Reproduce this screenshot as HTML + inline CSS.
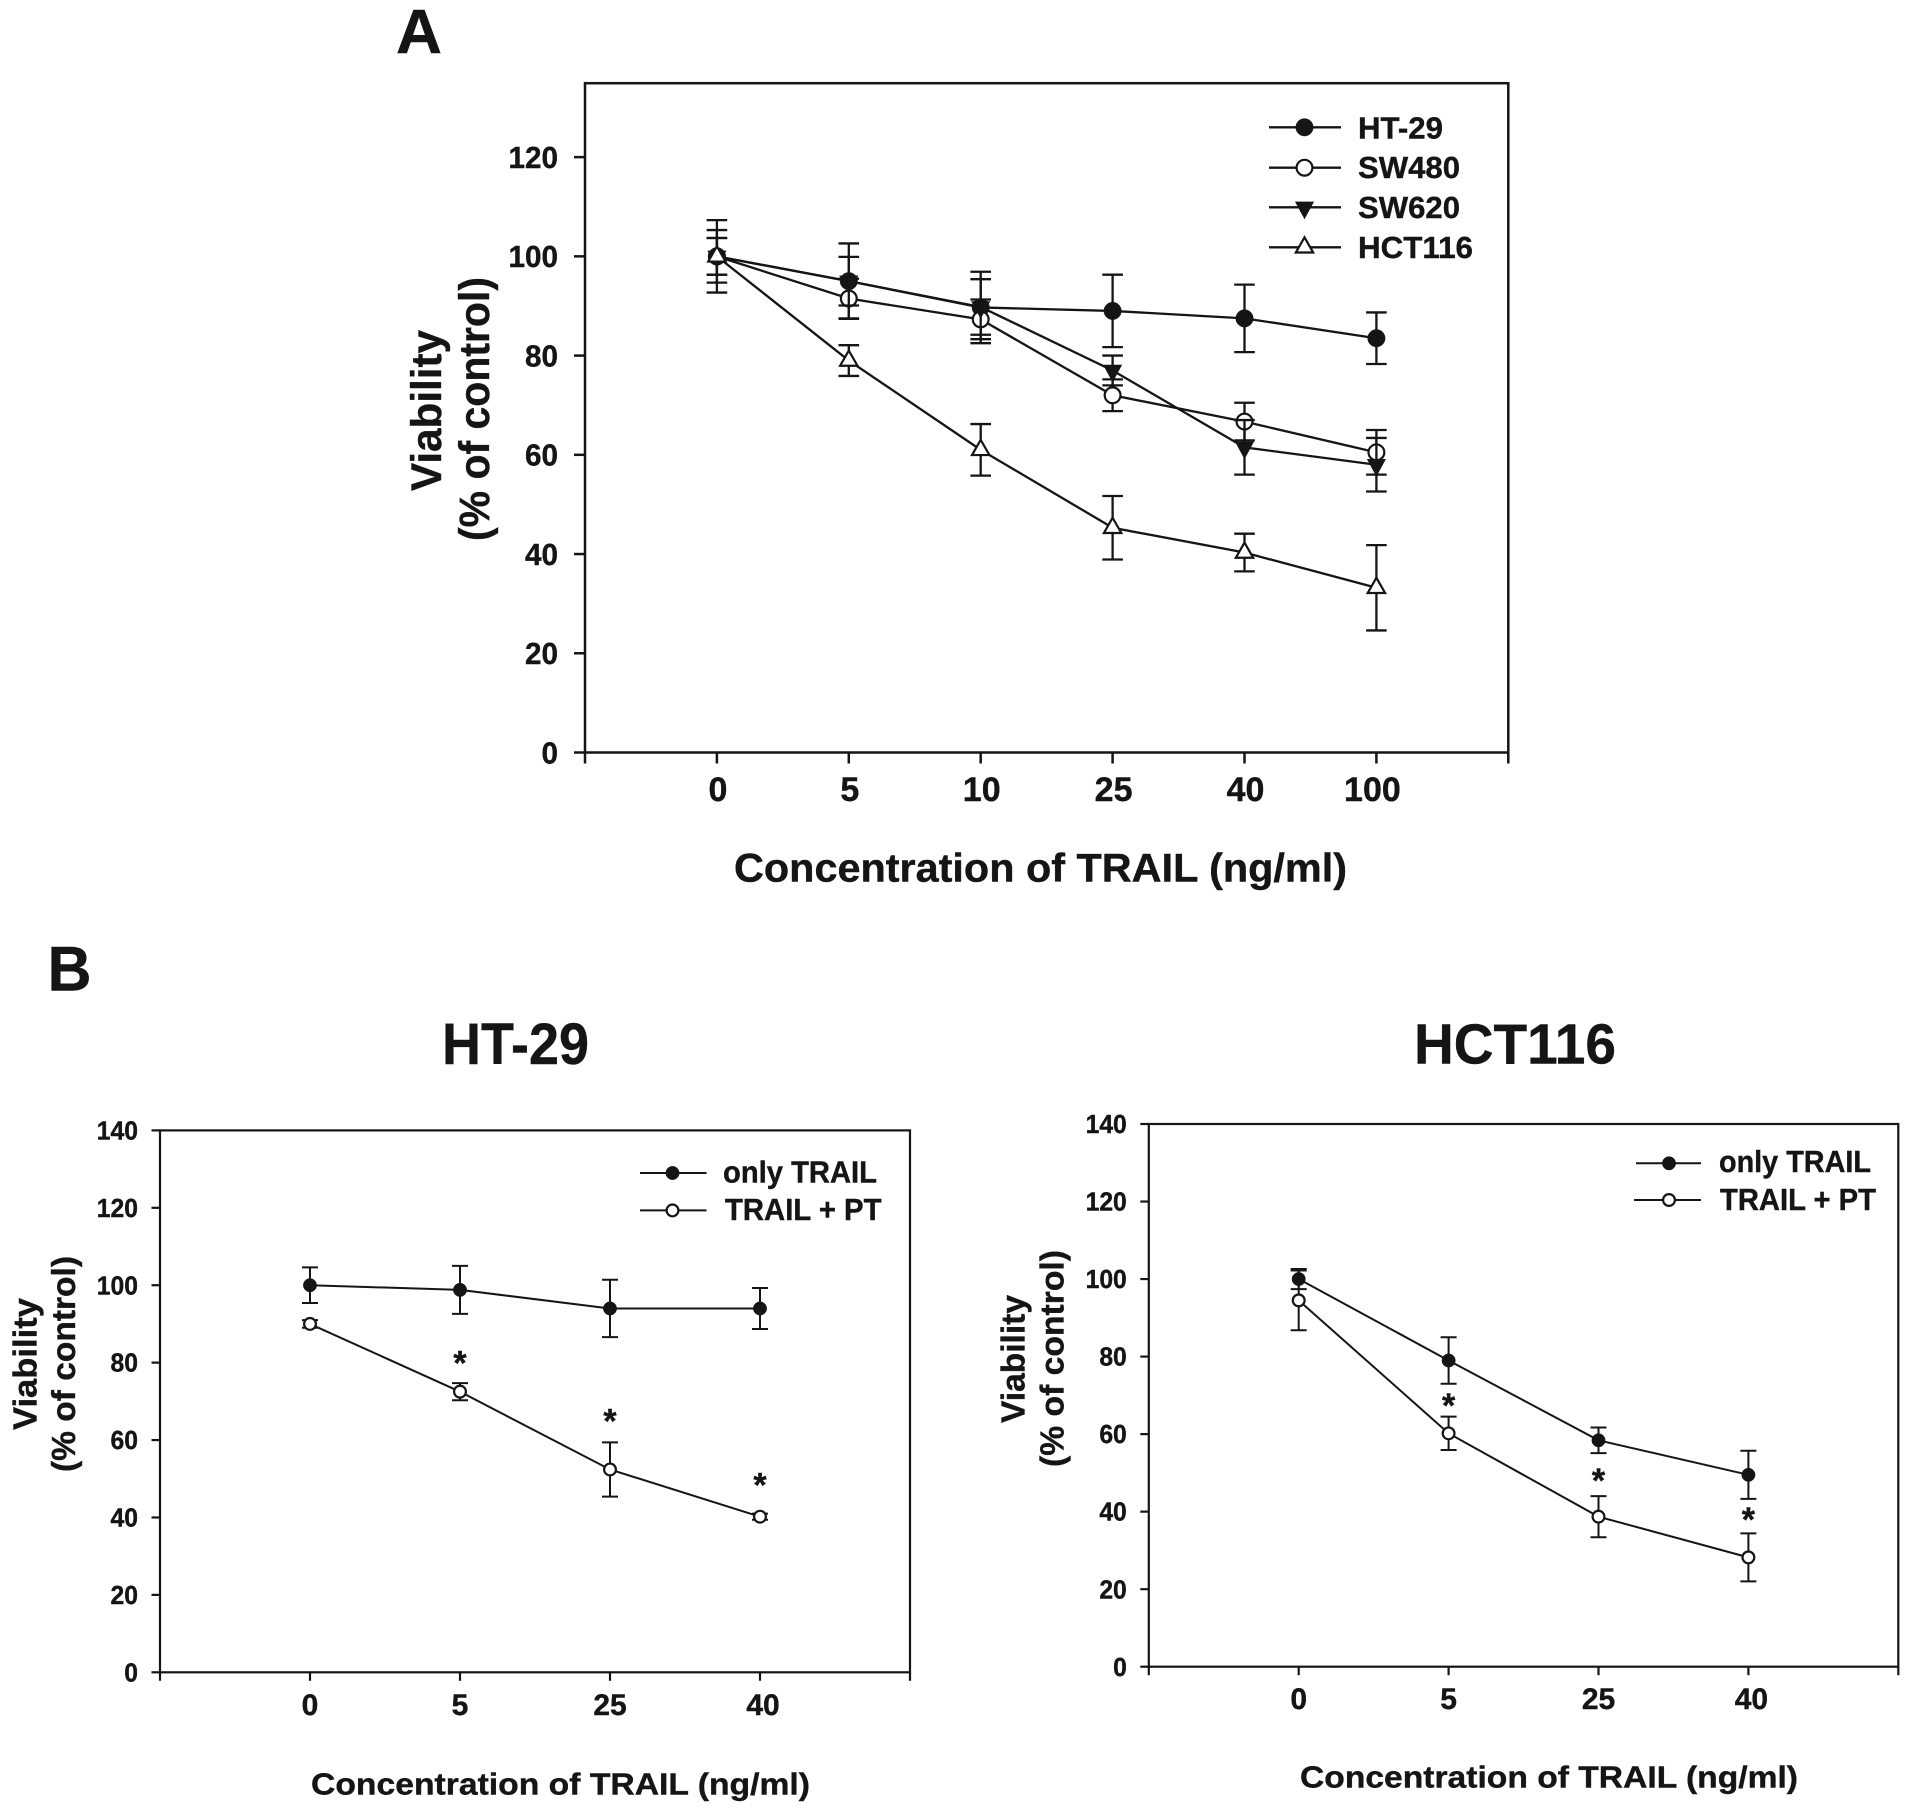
<!DOCTYPE html>
<html lang="en">
<head>
<meta charset="utf-8">
<title>TRAIL viability charts</title>
<style>
html,body{margin:0;padding:0;background:#fff;}
svg{display:block;}
text{font-family:"Liberation Sans",Arial,sans-serif;font-weight:bold;fill:#151515;stroke:#151515;stroke-width:0.4;}
</style>
</head>
<body>
<svg id="fig" xmlns="http://www.w3.org/2000/svg" width="1912" height="1818" viewBox="0 0 1912 1818">
  <rect x="0" y="0" width="1912" height="1818" fill="#fff"/>
  <text x="396" y="53" font-size="62" textLength="46" lengthAdjust="spacingAndGlyphs">A</text>
  <text x="47.5" y="990.5" font-size="63" textLength="44" lengthAdjust="spacingAndGlyphs">B</text>
  <text x="442" y="1064" font-size="58" textLength="147" lengthAdjust="spacingAndGlyphs">HT-29</text>
  <text x="1414" y="1063.5" font-size="57" textLength="202" lengthAdjust="spacingAndGlyphs">HCT116</text>

  <text x="734" y="881.5" font-size="40" textLength="613" lengthAdjust="spacingAndGlyphs">Concentration of TRAIL (ng/ml)</text>
  <text transform="translate(441,491) rotate(-90)" font-size="43" textLength="161" lengthAdjust="spacingAndGlyphs">Viability</text>
  <text transform="translate(489,541) rotate(-90)" font-size="43" textLength="264" lengthAdjust="spacingAndGlyphs">(% of control)</text>

  <text x="311" y="1794.5" font-size="31" textLength="499" lengthAdjust="spacingAndGlyphs">Concentration of TRAIL (ng/ml)</text>
  <text transform="translate(36.5,1430) rotate(-90)" font-size="33" textLength="132" lengthAdjust="spacingAndGlyphs">Viability</text>
  <text transform="translate(75,1472) rotate(-90)" font-size="33" textLength="216" lengthAdjust="spacingAndGlyphs">(% of control)</text>

  <text x="1300" y="1787.5" font-size="31" textLength="498" lengthAdjust="spacingAndGlyphs">Concentration of TRAIL (ng/ml)</text>
  <text transform="translate(1024.5,1423) rotate(-90)" font-size="33" textLength="128" lengthAdjust="spacingAndGlyphs">Viability</text>
  <text transform="translate(1063.5,1467) rotate(-90)" font-size="33" textLength="217" lengthAdjust="spacingAndGlyphs">(% of control)</text>
</svg>
<script>
// ---------- Panel A data ----------
const aCategories = ['0', '5', '10', '25', '40', '100'];
const aYTicks = [0, 20, 40, 60, 80, 100, 120];
const aHt29 = [100, 95, 89.7, 89, 87.5, 83.5];
const aHt29Err = [7.3, 7.6, 7.2, 7.3, 6.8, 5.2];
const aSw480 = [100, 91.5, 87.3, 72, 66.7, 60.5];
const aSw480Err = [3.7, 4, 4, 3.2, 3.8, 4.5];
const aSw620 = [100, 95, 89.8, 77, 61.5, 58];
const aSw620Err = [5.3, 4.9, 5.6, 3, 5.5, 5.4];
const aHct116 = [100, 79, 61, 45.3, 40.3, 33.2];
const aHct116Err = [3.7, 3.1, 5.2, 6.4, 3.8, 8.6];

// ---------- Panel B, HT-29 data ----------
const b1Categories = ['0', '5', '25', '40'];
const b1YTicks = [0, 20, 40, 60, 80, 100, 120, 140];
const b1Only = [100, 98.8, 94, 94];
const b1OnlyErr = [4.6, 6.2, 7.4, 5.3];
const b1Pt = [90, 72.5, 52.4, 40.2];
const b1PtErr = [1, 2.2, 7, 0.8];
const b1Stars = [null, 81, 66, 49.4];

// ---------- Panel B, HCT116 data ----------
const b2Categories = ['0', '5', '25', '40'];
const b2YTicks = [0, 20, 40, 60, 80, 100, 120, 140];
const b2Only = [100, 79, 58.4, 49.5];
const b2OnlyErr = [2.6, 6, 3.3, 6.2];
const b2Pt = [94.5, 60.2, 38.7, 28.2];
const b2PtErr = [7.7, 4.3, 5.3, 6.2];
const b2Stars = [null, 68.4, 49.1, 39];

const NS = 'http://www.w3.org/2000/svg';
const svg = document.getElementById('fig');
const INK = '#151515';

function make(tag, attrs, parent) {
  const node = document.createElementNS(NS, tag);
  for (const k in attrs) node.setAttribute(k, attrs[k]);
  parent.appendChild(node);
  return node;
}

function drawMarker(kind, cx, cy, r, parent) {
  let m;
  if (kind === 'filled-circle' || kind === 'open-circle') {
    m = make('circle', {cx: cx, cy: cy, r: kind === 'filled-circle' ? r : r - 0.8, fill: kind === 'filled-circle' ? INK : '#fff', stroke: INK, 'stroke-width': kind === 'filled-circle' ? 0.5 : 2.2}, parent);
  } else if (kind === 'filled-triangle-down') {
    m = make('polygon', {points: (cx - r) + ',' + (cy - r * 0.6) + ' ' + (cx + r) + ',' + (cy - r * 0.6) + ' ' + cx + ',' + (cy + r * 1.25), fill: INK, stroke: INK, 'stroke-width': 1}, parent);
  } else {
    m = make('polygon', {points: (cx - r) + ',' + (cy + r * 0.6) + ' ' + (cx + r) + ',' + (cy + r * 0.6) + ' ' + cx + ',' + (cy - r * 1.15), fill: '#fff', stroke: INK, 'stroke-width': 2.2}, parent);
  }
  return m;
}

function drawChart(cfg) {
  const g = make('g', {}, svg);
  
  

  const yScale = function (v) { return cfg.bottom - (v / cfg.yMax) * (cfg.bottom - cfg.top); };
  const step = (cfg.right - cfg.left) / (cfg.categories.length + 1);
  const xScale = function (i) { return cfg.left + step * (i + 1); };

  const frame = make('rect', {x: cfg.left, y: cfg.top, width: cfg.right - cfg.left, height: cfg.bottom - cfg.top, fill: 'none', stroke: INK, 'stroke-width': cfg.axisWidth}, g);
  
  

  cfg.yTicks.forEach(function (t) {
    const tick = make('line', {x1: cfg.left - cfg.tickLen, x2: cfg.left, y1: yScale(t), y2: yScale(t), stroke: INK, 'stroke-width': cfg.axisWidth}, g);
    
    
    const str = String(t);
    const label = make('text', {x: cfg.yLabelRight, y: yScale(t) + cfg.tickFont * 0.35, 'text-anchor': 'end', 'font-size': cfg.tickFont, textLength: str.length * 0.556 * cfg.tickWidthFont, lengthAdjust: 'spacingAndGlyphs'}, g);
    label.textContent = str;
    
    
  });

  const edgeLeft = make('line', {x1: cfg.left, x2: cfg.left, y1: cfg.bottom, y2: cfg.bottom + cfg.tickLen, stroke: INK, 'stroke-width': cfg.axisWidth}, g);
  
  
  const edgeRight = make('line', {x1: cfg.right, x2: cfg.right, y1: cfg.bottom, y2: cfg.bottom + cfg.tickLen, stroke: INK, 'stroke-width': cfg.axisWidth}, g);
  
  

  cfg.categories.forEach(function (c, i) {
    const tick = make('line', {x1: xScale(i), x2: xScale(i), y1: cfg.bottom, y2: cfg.bottom + cfg.tickLen, stroke: INK, 'stroke-width': cfg.axisWidth}, g);
    
    
    const label = make('text', {x: xScale(i) + (i === cfg.categories.length - 1 ? cfg.lastLabelShift : cfg.labelShift), y: cfg.xLabelBaseline, 'text-anchor': 'middle', 'font-size': cfg.xTickFont}, g);
    label.textContent = c;
    
    
  });

  cfg.series.forEach(function (s) {
    const sg = make('g', {}, g);
    
    

    const pts = s.values.map(function (v, i) { return xScale(i) + ',' + yScale(v); }).join(' ');
    const line = make('polyline', {points: pts, fill: 'none', stroke: INK, 'stroke-width': cfg.lineWidth}, sg);
    
    

    s.values.forEach(function (v, i) {
      const x = xScale(i), hi = yScale(v + s.errors[i]), lo = yScale(v - s.errors[i]);
      const d = 'M' + x + ' ' + hi + 'V' + lo + 'M' + (x - cfg.capHalf) + ' ' + hi + 'H' + (x + cfg.capHalf) + 'M' + (x - cfg.capHalf) + ' ' + lo + 'H' + (x + cfg.capHalf);
      const bar = make('path', {d: d, fill: 'none', stroke: INK, 'stroke-width': cfg.lineWidth}, sg);
      
      
    });
    s.values.forEach(function (v, i) {
      const mark = drawMarker(s.marker, xScale(i), yScale(v), cfg.markerR, sg);
      
      
    });
  });

  cfg.stars.forEach(function (v, i) {
    if (v === null) return;
    const star = make('text', {x: xScale(i), y: yScale(v) + cfg.starFont * 0.46, 'text-anchor': 'middle', 'font-size': cfg.starFont}, g);
    star.textContent = '*';
    
    
  });

  cfg.legend.forEach(function (e) {
    const lg = make('g', {}, g);
    
    
    const sample = make('line', {x1: e.x1, x2: e.x2, y1: e.y, y2: e.y, stroke: INK, 'stroke-width': cfg.lineWidth}, lg);
    
    
    const mark = drawMarker(e.marker, e.mx, e.y, cfg.markerR, lg);
    
    
    const label = make('text', {x: e.tx, y: e.ty, 'font-size': cfg.legendFont, textLength: e.tw, lengthAdjust: 'spacingAndGlyphs'}, lg);
    label.textContent = e.label;
    
    
  });
}

drawChart({
  name: 'panel-a', left: 585, right: 1508.3, top: 83.2, bottom: 752.5, yMax: 134.9,
  categories: aCategories, yTicks: aYTicks, axisWidth: 2.5, lineWidth: 2.3, tickLen: 11,
  tickFont: 31, tickWidthFont: 29.7, xTickFont: 34, yLabelRight: 558, xLabelBaseline: 801, lastLabelShift: -4, labelShift: 1,
  capHalf: 10.3, markerR: 8.7, starFont: 34, legendFont: 31, stars: [],
  series: [
    {name: 'ht-29', values: aHt29, errors: aHt29Err, marker: 'filled-circle'},
    {name: 'sw480', values: aSw480, errors: aSw480Err, marker: 'open-circle'},
    {name: 'sw620', values: aSw620, errors: aSw620Err, marker: 'filled-triangle-down'},
    {name: 'hct116', values: aHct116, errors: aHct116Err, marker: 'open-triangle-up'}
  ],
  legend: [
    {label: 'HT-29', x1: 1269, x2: 1341, mx: 1304.5, y: 127.3, marker: 'filled-circle', tx: 1358, ty: 138.3, tw: 85},
    {label: 'SW480', x1: 1269, x2: 1341, mx: 1304.5, y: 167.7, marker: 'open-circle', tx: 1358, ty: 178, tw: 102},
    {label: 'SW620', x1: 1269, x2: 1341, mx: 1304.5, y: 207.3, marker: 'filled-triangle-down', tx: 1358, ty: 218, tw: 102},
    {label: 'HCT116', x1: 1269, x2: 1341, mx: 1304.5, y: 247.3, marker: 'open-triangle-up', tx: 1358, ty: 258, tw: 115}
  ]
});

drawChart({
  name: 'ht-29', left: 160, right: 910, top: 1130.4, bottom: 1672.3, yMax: 140,
  categories: b1Categories, yTicks: b1YTicks, axisWidth: 2.2, lineWidth: 2, tickLen: 8.5,
  tickFont: 26, tickWidthFont: 24.7, xTickFont: 30, yLabelRight: 138, xLabelBaseline: 1715, lastLabelShift: 3, labelShift: 0,
  capHalf: 8, markerR: 6.7, starFont: 34, legendFont: 31, stars: b1Stars,
  series: [
    {name: 'only-trail', values: b1Only, errors: b1OnlyErr, marker: 'filled-circle'},
    {name: 'trail-plus-pt', values: b1Pt, errors: b1PtErr, marker: 'open-circle'}
  ],
  legend: [
    {label: 'only TRAIL', x1: 640, x2: 706.5, mx: 672.5, y: 1173, marker: 'filled-circle', tx: 723, ty: 1182.5, tw: 154},
    {label: 'TRAIL + PT', x1: 640, x2: 706.5, mx: 672.5, y: 1210.4, marker: 'open-circle', tx: 725, ty: 1220, tw: 156.5}
  ]
});

drawChart({
  name: 'hct116', left: 1148.8, right: 1898.3, top: 1124, bottom: 1666.7, yMax: 140,
  categories: b2Categories, yTicks: b2YTicks, axisWidth: 2.2, lineWidth: 2, tickLen: 8.5,
  tickFont: 26, tickWidthFont: 24.7, xTickFont: 30, yLabelRight: 1126.8, xLabelBaseline: 1709, lastLabelShift: 3, labelShift: 0,
  capHalf: 8, markerR: 6.7, starFont: 34, legendFont: 31, stars: b2Stars,
  series: [
    {name: 'only-trail', values: b2Only, errors: b2OnlyErr, marker: 'filled-circle'},
    {name: 'trail-plus-pt', values: b2Pt, errors: b2PtErr, marker: 'open-circle'}
  ],
  legend: [
    {label: 'only TRAIL', x1: 1636, x2: 1701, mx: 1669, y: 1163.3, marker: 'filled-circle', tx: 1719, ty: 1172, tw: 152},
    {label: 'TRAIL + PT', x1: 1634, x2: 1701, mx: 1669, y: 1200, marker: 'open-circle', tx: 1720, ty: 1210, tw: 156}
  ]
});
</script>
</body>
</html>
